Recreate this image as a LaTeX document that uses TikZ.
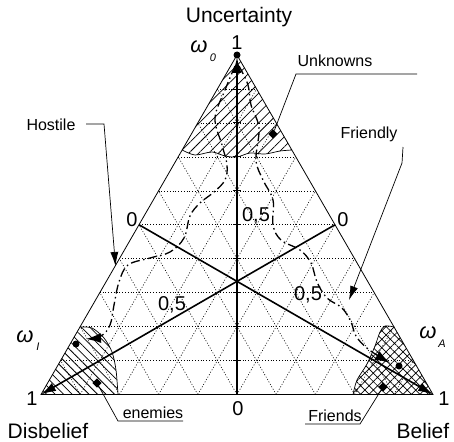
\documentclass[tikz,border=0pt]{standalone}
\usepackage{fontspec}
\setmainfont{Liberation Sans}
\usetikzlibrary{arrows.meta,patterns.meta,calc}
\begin{document}
\begin{tikzpicture}[x=1pt,y=-1pt,
  sideline/.style={line width=0.8pt},
  axisline/.style={line width=1.6pt},
  gridline/.style={line width=0.6pt,dash pattern=on 1pt off 1.8pt},
  traj/.style={line width=1.3pt,dash pattern=on 9pt off 3.5pt on 1.5pt off 3.5pt},
  callout/.style={line width=0.7pt},
  bigtip/.style={-{Latex[length=15pt,width=9pt]}},
  bigtext/.style={font=\fontsize{21}{24}\selectfont,inner sep=0pt,anchor=base},
  numtext/.style={font=\fontsize{20}{24}\selectfont,inner sep=0pt,anchor=base},
  smalltext/.style={font=\fontsize{16}{19}\selectfont,inner sep=0pt,anchor=base},
  omtext/.style={font=\fontsize{22}{24}\selectfont\itshape,inner sep=0pt,anchor=base},
  subtext/.style={font=\fontsize{11}{13}\selectfont\itshape,inner sep=0pt,anchor=base},
  dotmark/.style={circle,fill,inner sep=0pt,minimum size=7pt},
  sqmark/.style={fill,rotate=45,inner sep=0pt,minimum size=6.5pt},
  bound/.style={line width=0.7pt}
]
\useasboundingbox (0,0) rectangle (454,441);
\coordinate (T) at (237,55);
\coordinate (L) at (41,394.5);
\coordinate (R) at (433,394.5);
\coordinate (M) at (237,394.5);
\coordinate (LM) at ($(L)!0.5!(T)$);
\coordinate (RM) at ($(R)!0.5!(T)$);
\coordinate (Ttip) at (237,57);

% hatched regions
\path[pattern={Lines[angle=45,distance=7pt,line width=0.75pt]}]
  (T) -- plot[smooth] coordinates {(182.2,150) (195,155) (212,152) (225,156) (237,157) (250,153) (265,154) (280,151) (291.8,150)} -- cycle;
\draw[bound] plot[smooth] coordinates {(182.2,150) (195,155) (212,152) (225,156) (237,157) (250,153) (265,154) (280,151) (291.8,150)};

\path[pattern={Lines[angle=-45,distance=6pt,line width=0.75pt]}]
  (L) -- plot[smooth] coordinates {(80,327) (92,328) (104,338) (112,352) (116,370) (118,394.5)} -- cycle;
\draw[bound] plot[smooth] coordinates {(80,327) (92,328) (104,338) (112,352) (116,370) (118,394.5)};

\path[pattern={Hatch[angle=45,distance=6pt,line width=0.7pt]}]
  (R) -- plot[smooth] coordinates {(394,327) (385,326) (380,332) (375,346) (367,364) (357,380) (353,394.5)} -- cycle;
\draw[bound] plot[smooth] coordinates {(394,327) (385,326) (380,332) (375,346) (367,364) (357,380) (353,394.5)};

% grid
\foreach \k in {1,...,9} {
  \draw[gridline] ($(L)!{\k/10}!(T)$) -- ($(R)!{\k/10}!(T)$);
  \draw[gridline] ($(L)!{\k/10}!(R)$) -- ($(T)!{\k/10}!(R)$);
  \draw[gridline] ($(R)!{\k/10}!(L)$) -- ($(T)!{\k/10}!(L)$);
  \draw[line width=0.9pt] ($(M)!{\k/10}!(T)+(-4,0)$) -- ($(M)!{\k/10}!(T)+(4,0)$);
}

% triangle
\draw[sideline] (T) -- (L) -- (R) -- cycle;

% axes
\draw[axisline,-{Latex[length=16pt,width=9pt]}] (M) -- (Ttip);
\draw[axisline,bigtip] (LM) -- (R);
\draw[axisline,bigtip] (RM) -- (L);

% trajectories
\draw[traj,-{Latex[length=15pt,width=10pt]}] plot[smooth,tension=0.6] coordinates {(235,66) (225,90) (215,118) (222,145) (227,165) (225,180) (214,192) (200,203) (190,216) (184,238) (170,252) (150,258) (128,265) (119,282) (114,305) (110,325) (101,336) (86,339)};
\draw[traj,-{Latex[length=15pt,width=10pt]}] plot[smooth,tension=0.6] coordinates {(239,66) (248,85) (251,105) (259,128) (256,160) (263,180) (273,200) (273,225) (281,240) (300,250) (311,263) (317,282) (327,298) (342,308) (351,322) (356,336) (368,349) (390,363)};

% marks
\node[dotmark] (p0) at (T) {};
\node[sqmark] (s0) at (273,134) {};
\node[dotmark] (p1) at (76,344) {};
\node[sqmark] (s1) at (97,383) {};
\node[dotmark] (p2) at (399,366) {};
\node[sqmark] (s2) at (383,387) {};

% callouts
\node[smalltext] (hostile) at (51,130) {Hostile};
\coordinate (h1) at (86,124);
\coordinate (h2) at (104,124);
\coordinate (htip) at (115.5,266);
\draw[callout,-{Latex[length=14pt,width=8pt]}] (h1) -- (h2) -- (htip);

\node[smalltext] (friendly) at (369,138) {Friendly};
\coordinate (f1) at (403,147);
\coordinate (f2) at (402,163);
\coordinate (ftip) at (349,300);
\draw[callout,-{Latex[length=14pt,width=8pt]}] (f1) -- (f2) -- (ftip);

\node[smalltext] (unknowns) at (335,67) {Unknowns};
\coordinate (u1) at (417,74);
\coordinate (u2) at (296,74);
\draw[callout] (u1) -- (u2) -- (s0);

\node[smalltext] (enemies) at (153,418) {enemies};
\coordinate (e1) at (183,421);
\coordinate (e2) at (118,421);
\draw[callout] (e1) -- (e2) -- (s1);

\node[smalltext] (friends) at (335,421) {Friends};
\coordinate (r1) at (305,424);
\coordinate (r2) at (360,424);
\draw[callout] (r1) -- (r2) -- (s2);

% labels
\node[bigtext] (unc) at (239,23) {Uncertainty};
\node[bigtext] (dis) at (48,438) {Disbelief};
\node[bigtext] (bel) at (423,438) {Belief};
\node[numtext] (one0) at (237,50) {1};
\node[numtext] (one1) at (32,405) {1};
\node[numtext] (one2) at (444,405) {1};
\node[numtext] (zero0) at (238,415) {0};
\node[numtext] (zero1) at (132,226) {0};
\node[numtext] (zero2) at (343,226) {0};
\node[numtext] (half0) at (256,221) {0,5};
\node[numtext] (half1) at (172,310) {0,5};
\node[numtext] (half2) at (308,300) {0,5};

\node[omtext] (om0) at (199,53) {ω};
\node[subtext] (om0s) at (213,62) {0};
\node[omtext] (om1) at (25,342) {ω};
\node[subtext] (om1s) at (38,350) {I};
\node[omtext] (om2) at (428,338) {ω};
\node[subtext] (om2s) at (442,347) {A};
\end{tikzpicture}
\end{document}
